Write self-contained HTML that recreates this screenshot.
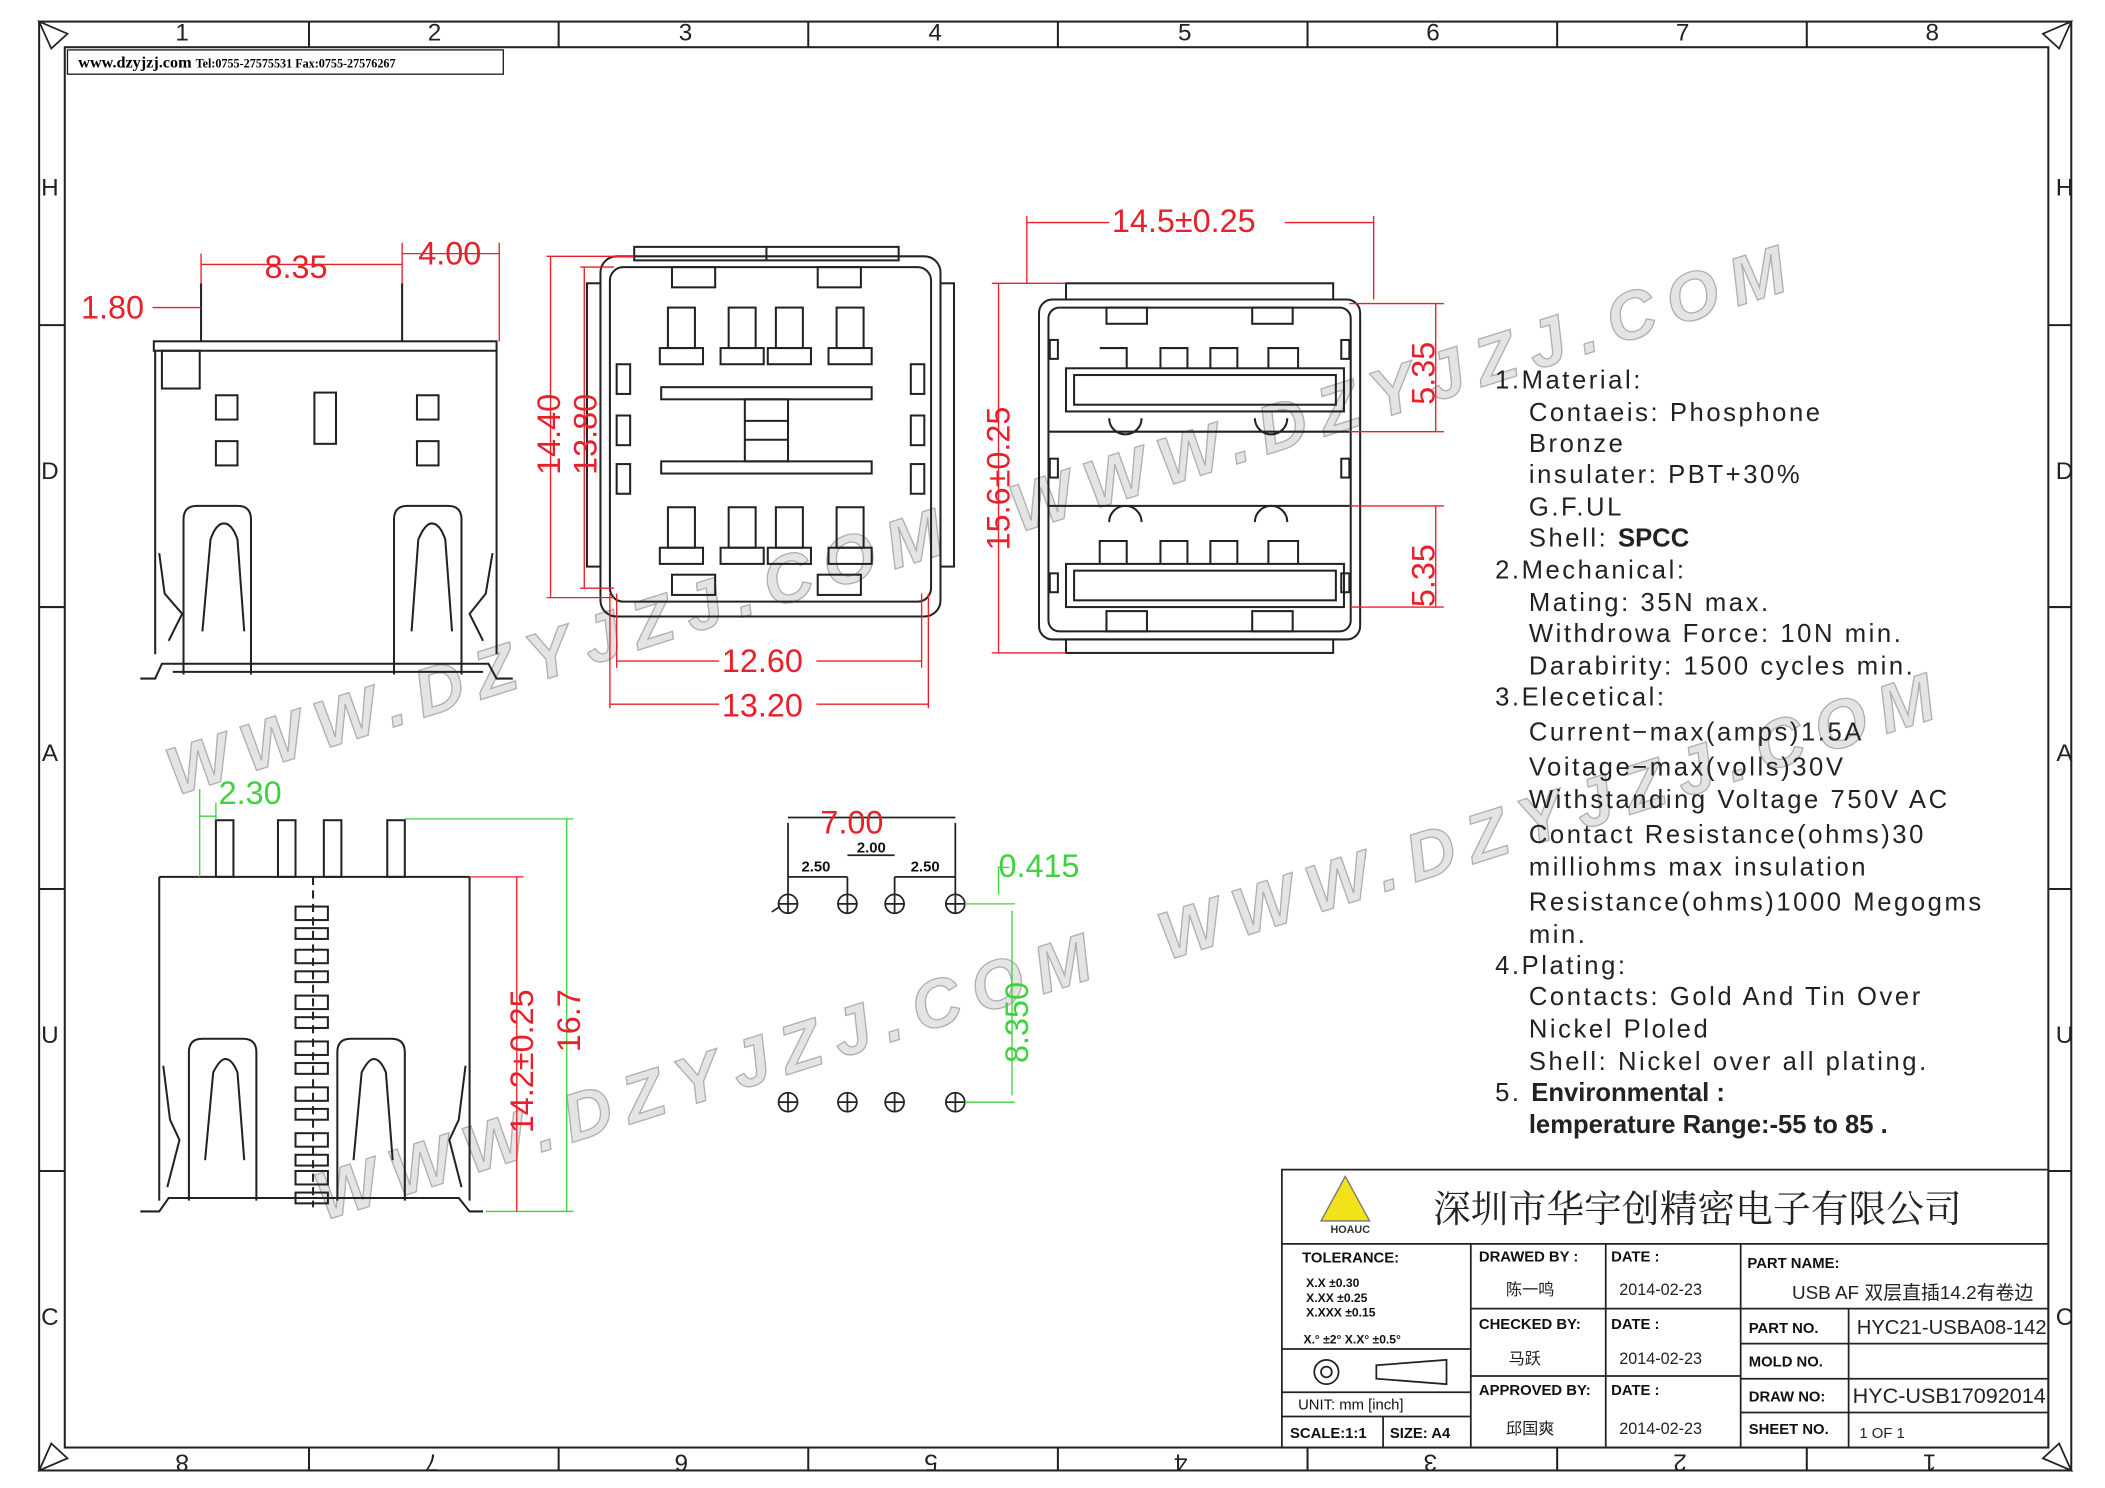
<!DOCTYPE html>
<html><head><meta charset="utf-8"><style>
html,body{margin:0;padding:0;background:#fff;}
svg{display:block;}
text{font-family:"Liberation Sans","Noto Sans CJK SC",sans-serif;}
.r{fill:#e8202a;font-size:24px;}
.g{fill:#3fd23f;font-size:24px;}
.k{fill:#222;font-size:19px;letter-spacing:1.9px;}
.s{fill:#111;font-size:11px;font-weight:bold;}
.wm{fill:#e2e2e2;stroke:#a8a8a8;stroke-width:1;font-size:50px;font-weight:bold;font-style:italic;opacity:0.9;}
</style></head><body>
<svg width="2105" height="1488" viewBox="0 0 1560 1103" preserveAspectRatio="none" xmlns="http://www.w3.org/2000/svg">
<g fill="none" stroke="#222" stroke-width="1.5">
<rect x="29" y="16" width="1506" height="1074"/>
<rect x="48" y="35" width="1470" height="1038"/>
</g>
<g stroke="#222" stroke-width="1.5">
<line x1="229" y1="16" x2="229" y2="35"/><line x1="414" y1="16" x2="414" y2="35"/><line x1="599" y1="16" x2="599" y2="35"/><line x1="784" y1="16" x2="784" y2="35"/><line x1="969" y1="16" x2="969" y2="35"/><line x1="1154" y1="16" x2="1154" y2="35"/><line x1="1339" y1="16" x2="1339" y2="35"/>
<line x1="229" y1="1073" x2="229" y2="1090"/><line x1="414" y1="1073" x2="414" y2="1090"/><line x1="599" y1="1073" x2="599" y2="1090"/><line x1="784" y1="1073" x2="784" y2="1090"/><line x1="969" y1="1073" x2="969" y2="1090"/><line x1="1154" y1="1073" x2="1154" y2="1090"/><line x1="1339" y1="1073" x2="1339" y2="1090"/>
<line x1="29" y1="241" x2="48" y2="241"/><line x1="29" y1="450" x2="48" y2="450"/><line x1="29" y1="659" x2="48" y2="659"/><line x1="29" y1="868" x2="48" y2="868"/>
<line x1="1518" y1="241" x2="1535" y2="241"/><line x1="1518" y1="450" x2="1535" y2="450"/><line x1="1518" y1="659" x2="1535" y2="659"/><line x1="1518" y1="868" x2="1535" y2="868"/>
</g>
<g fill="none" stroke="#222" stroke-width="1.3">
<path d="M29 16 L50 25 L38 36 Z"/><path d="M1535 16 L1514 25 L1526 36 Z"/><path d="M29 1090 L50 1081 L38 1070 Z"/><path d="M1535 1090 L1514 1081 L1526 1070 Z"/>
</g>
<g font-size="18" fill="#222" text-anchor="middle">
<text x="135" y="30">1</text><text x="322" y="30">2</text><text x="508" y="30">3</text><text x="693" y="30">4</text><text x="878" y="30">5</text><text x="1062" y="30">6</text><text x="1247" y="30">7</text><text x="1432" y="30">8</text>
<text transform="translate(135,1078) rotate(180)">8</text><text transform="translate(320,1078) rotate(180)">7</text><text transform="translate(505,1078) rotate(180)">6</text><text transform="translate(690,1078) rotate(180)">5</text><text transform="translate(875,1078) rotate(180)">4</text><text transform="translate(1060,1078) rotate(180)">3</text><text transform="translate(1245,1078) rotate(180)">2</text><text transform="translate(1430,1078) rotate(180)">1</text>
<text x="37" y="145">H</text><text x="37" y="355">D</text><text x="37" y="564">A</text><text x="37" y="773">U</text><text x="37" y="982">C</text>
<text x="1530" y="145">H</text><text x="1530" y="355">D</text><text x="1530" y="564">A</text><text x="1530" y="773">U</text><text x="1530" y="982">C</text>
</g>
<rect x="50" y="37" width="323" height="18" fill="none" stroke="#222"/>
<text x="58" y="50" style="font-family:'Liberation Serif',serif;font-size:12px;font-weight:bold">www.dzyjzj.com <tspan font-size="9">Tel:0755-27575531  Fax:0755-27576267</tspan></text>

<!-- watermarks -->
<g>
<text class="wm" transform="translate(130,590) rotate(-17.5)" textLength="600" lengthAdjust="spacing">WWW.DZYJZJ.COM</text>
<text class="wm" transform="translate(755,395) rotate(-17.5)" textLength="600" lengthAdjust="spacing">WWW.DZYJZJ.COM</text>
<text class="wm" transform="translate(240,905) rotate(-17.5)" textLength="600" lengthAdjust="spacing">WWW.DZYJZJ.COM</text>
<text class="wm" transform="translate(865,712) rotate(-17.5)" textLength="600" lengthAdjust="spacing">WWW.DZYJZJ.COM</text>
</g>

<!-- View 1: side view -->
<g fill="none" stroke="#222" stroke-width="1.5">
<line x1="149" y1="210" x2="149" y2="253"/><line x1="298" y1="210" x2="298" y2="253"/>
<rect x="114" y="253" width="254" height="7"/>
<path d="M115 260 V485 M368 260 V485"/>
<rect x="120" y="260" width="28" height="28"/>
<rect x="160" y="293" width="16" height="18"/><rect x="160" y="327" width="16" height="18"/>
<rect x="309" y="293" width="16" height="18"/><rect x="309" y="327" width="16" height="18"/>
<rect x="233" y="291" width="16" height="38"/>
<path d="M136 500 V385 Q136 375 146 375 H176 Q186 375 186 385 V500"/>
<path d="M150 468 L156 400 Q160 388 166 388 Q172 388 176 400 L181 468"/>
<path d="M292 500 V385 Q292 375 302 375 H332 Q342 375 342 385 V500"/>
<path d="M305 468 L310 400 Q315 388 320 388 Q326 388 330 400 L335 468"/>
<path d="M118 410 L122 440 L135 455 L125 475"/><path d="M365 410 L360 440 L348 455 L358 475"/>
<path d="M104 503 H115 L120 492 H362 L368 503 H380"/>
<line x1="128" y1="498" x2="358" y2="498"/>
</g>
<g stroke="#e8202a" stroke-width="1" fill="none">
<line x1="149" y1="188" x2="149" y2="210"/><line x1="298" y1="180" x2="298" y2="210"/><line x1="370" y1="180" x2="370" y2="253"/>
<line x1="149" y1="196" x2="298" y2="196"/><line x1="298" y1="188" x2="370" y2="188"/>
<line x1="113" y1="228" x2="149" y2="228"/>
</g>
<text class="r" x="196" y="206">8.35</text><text class="r" x="310" y="196">4.00</text><text class="r" x="60" y="236">1.80</text>

<!-- View 2: front view -->
<g fill="none" stroke="#222" stroke-width="1.5">
<rect x="445" y="190" width="252" height="267" rx="12"/>
<rect x="452" y="198" width="238" height="248" rx="10"/>
<rect x="470" y="183" width="196" height="10"/>
<line x1="568" y1="183" x2="568" y2="193"/>
<rect x="498" y="198" width="32" height="15"/><rect x="606" y="198" width="32" height="15"/>
<rect x="498" y="426" width="32" height="15"/><rect x="606" y="426" width="32" height="15"/>
<rect x="435" y="210" width="10" height="210"/><rect x="697" y="210" width="10" height="210"/>
<rect x="457" y="270" width="10" height="22"/><rect x="457" y="308" width="10" height="22"/><rect x="457" y="344" width="10" height="22"/>
<rect x="675" y="270" width="10" height="22"/><rect x="675" y="308" width="10" height="22"/><rect x="675" y="344" width="10" height="22"/>
<rect x="490" y="287" width="156" height="9"/><rect x="490" y="342" width="156" height="9"/>
<rect x="552" y="296" width="32" height="46"/><line x1="552" y1="312" x2="584" y2="312"/><line x1="552" y1="326" x2="584" y2="326"/>
<g id="pins">
<rect x="495" y="228" width="20" height="30"/><rect x="489" y="258" width="32" height="12"/>
<rect x="540" y="228" width="20" height="30"/><rect x="534" y="258" width="32" height="12"/>
<rect x="575" y="228" width="20" height="30"/><rect x="569" y="258" width="32" height="12"/>
<rect x="620" y="228" width="20" height="30"/><rect x="614" y="258" width="32" height="12"/>
</g>
<use href="#pins" y="148"/>
</g>
<g stroke="#e8202a" stroke-width="1" fill="none">
<line x1="405" y1="190" x2="470" y2="190"/><line x1="405" y1="443" x2="455" y2="443"/><line x1="408" y1="190" x2="408" y2="443"/>
<line x1="430" y1="198" x2="455" y2="198"/><line x1="430" y1="436" x2="455" y2="436"/><line x1="433" y1="198" x2="433" y2="436"/>
<line x1="457" y1="440" x2="457" y2="495"/><line x1="683" y1="440" x2="683" y2="495"/><line x1="457" y1="490" x2="683" y2="490"/>
<line x1="452" y1="440" x2="452" y2="525"/><line x1="688" y1="440" x2="688" y2="525"/><line x1="452" y1="522" x2="688" y2="522"/>
</g>
<text class="r" transform="translate(415,352) rotate(-90)">14.40</text>
<text class="r" transform="translate(442,352) rotate(-90)">13.80</text>
<rect x="533" y="477" width="72" height="26" fill="#fff"/><text class="r" x="535" y="498">12.60</text>
<rect x="533" y="510" width="72" height="26" fill="#fff"/><text class="r" x="535" y="531">13.20</text>

<!-- View 3: rear view -->
<g fill="none" stroke="#222" stroke-width="1.5">
<rect x="790" y="210" width="198" height="12"/>
<rect x="770" y="222" width="238" height="252" rx="10"/>
<rect x="777" y="228" width="224" height="240" rx="8"/>
<rect x="790" y="474" width="198" height="10"/>
<rect x="820" y="228" width="30" height="12"/><rect x="928" y="228" width="30" height="12"/>
<rect x="820" y="453" width="30" height="15"/><rect x="928" y="453" width="30" height="15"/>
<line x1="777" y1="320" x2="1001" y2="320"/><line x1="777" y1="375" x2="1001" y2="375"/>
<rect x="790" y="273" width="206" height="32"/><rect x="796" y="278" width="194" height="22"/>
<rect x="790" y="418" width="206" height="32"/><rect x="796" y="423" width="194" height="22"/>
<path d="M815 258 h20 v15 M860 273 v-15 h20 v15 M897 273 v-15 h20 v15 M940 273 v-15 h22 v15"/>
<path d="M815 418 v-17 h20 v17 M860 418 v-17 h20 v17 M897 418 v-17 h20 v17 M940 418 v-17 h22 v17"/>
<path d="M822 310 a12 12 0 0 0 24 0 M930 310 a12 12 0 0 0 24 0"/>
<path d="M822 387 a12 12 0 0 1 24 0 M930 387 a12 12 0 0 1 24 0"/>
<rect x="778" y="252" width="6" height="14"/><rect x="778" y="340" width="6" height="14"/><rect x="778" y="425" width="6" height="14"/>
<rect x="994" y="252" width="6" height="14"/><rect x="994" y="340" width="6" height="14"/><rect x="994" y="425" width="6" height="14"/>
</g>
<g stroke="#e8202a" stroke-width="1" fill="none">
<line x1="761" y1="160" x2="761" y2="210"/><line x1="1018" y1="160" x2="1018" y2="222"/><line x1="761" y1="165" x2="1018" y2="165"/>
<line x1="735" y1="210" x2="790" y2="210"/><line x1="735" y1="484" x2="790" y2="484"/><line x1="740" y1="210" x2="740" y2="484"/>
<line x1="1000" y1="225" x2="1070" y2="225"/><line x1="1000" y1="320" x2="1070" y2="320"/><line x1="1000" y1="375" x2="1070" y2="375"/><line x1="1000" y1="450" x2="1070" y2="450"/>
<line x1="1064" y1="225" x2="1064" y2="320"/><line x1="1064" y1="375" x2="1064" y2="450"/>
</g>
<rect x="822" y="150" width="130" height="26" fill="#fff"/><text class="r" x="824" y="172">14.5±0.25</text>
<text class="r" transform="translate(748,408) rotate(-90)">15.6±0.25</text>
<text class="r" transform="translate(1063,300) rotate(-90)">5.35</text>
<text class="r" transform="translate(1063,450) rotate(-90)">5.35</text>

<!-- View 4: bottom -->
<g fill="none" stroke="#222" stroke-width="1.5">
<rect x="160" y="608" width="13" height="42"/><rect x="206" y="608" width="13" height="42"/><rect x="240" y="608" width="13" height="42"/><rect x="287" y="608" width="13" height="42"/>
<path d="M118 650 H348 M118 650 V890 M348 650 V890"/>
<path d="M104 898 H118 L125 888 H340 L348 898 H358"/>
<path d="M140 890 V780 Q140 770 150 770 H180 Q190 770 190 780 V890"/>
<path d="M152 860 L158 795 Q163 785 167 785 Q172 785 176 795 L181 860"/>
<path d="M250 890 V780 Q250 770 260 770 H290 Q300 770 300 780 V890"/>
<path d="M262 860 L268 795 Q273 785 277 785 Q282 785 286 795 L291 860"/>
<path d="M121 790 L126 830 L133 845 L124 880"/><path d="M345 790 L340 830 L333 845 L342 880"/>
<path d="M232 650 V895" stroke-dasharray="6 4"/>
<g id="cl"><rect x="219" y="672" width="24" height="10"/><rect x="219" y="688" width="24" height="8"/></g>
<use href="#cl" y="32"/><use href="#cl" y="66"/><use href="#cl" y="100"/><use href="#cl" y="134"/><use href="#cl" y="168"/><use href="#cl" y="196"/>
</g>
<g stroke="#3fd23f" stroke-width="1" fill="none">
<line x1="148" y1="585" x2="148" y2="650"/><line x1="160" y1="595" x2="160" y2="608"/><line x1="148" y1="605" x2="160" y2="605"/>
<line x1="300" y1="607" x2="425" y2="607"/><line x1="360" y1="898" x2="425" y2="898"/><line x1="420" y1="607" x2="420" y2="898"/>
</g>
<g stroke="#e8202a" stroke-width="1" fill="none">
<line x1="348" y1="650" x2="388" y2="650"/><line x1="383" y1="650" x2="383" y2="898"/>
</g>
<text class="g" x="162" y="596">2.30</text>
<text class="r" transform="translate(395,840) rotate(-90)">14.2±0.25</text>
<text class="r" transform="translate(430,780) rotate(-90)">16.7</text>

<!-- View 5: PCB layout -->
<g fill="none" stroke="#222" stroke-width="1.3">
<g id="hrow">
<circle cx="584" cy="670" r="7"/><path d="M577 670h14M584 663v14"/>
<circle cx="628" cy="670" r="7"/><path d="M621 670h14M628 663v14"/>
<circle cx="663" cy="670" r="7"/><path d="M656 670h14M663 663v14"/>
<circle cx="708" cy="670" r="7"/><path d="M701 670h14M708 663v14"/>
</g>
<use href="#hrow" y="147"/>
<path d="M584 610 V663 M628 650 V663 M663 650 V663 M708 610 V663"/>
<path d="M584 650 H628 M663 650 H708"/><path d="M628 634 H663"/>
<path d="M584 606 H708"/>
<line x1="572" y1="676" x2="578" y2="672"/>
</g>
<text x="608" y="618" class="r" font-size="22">7.00</text>
<text x="594" y="646" class="s" font-size="13">2.50</text><text x="635" y="632" class="s" font-size="13">2.00</text><text x="675" y="646" class="s" font-size="13">2.50</text>
<g stroke="#3fd23f" stroke-width="1" fill="none">
<path d="M740 663 V643 H748"/><path d="M715 670 H752 M715 817 H752 M750 675 V812"/>
</g>
<text class="g" x="740" y="650">0.415</text>
<text class="g" transform="translate(762,788) rotate(-90)">8.350</text>

<!-- spec text -->
<g class="k">
<text x="1108" y="288">1.Material:</text>
<text x="1133" y="312">Contaeis: Phosphone</text>
<text x="1133" y="335">Bronze</text>
<text x="1133" y="358">insulater: PBT+30%</text>
<text x="1133" y="382">G.F.UL</text>
<text x="1133" y="405">Shell: <tspan font-weight="bold" letter-spacing="0">SPCC</tspan></text>
<text x="1108" y="429">2.Mechanical:</text>
<text x="1133" y="453">Mating: 35N  max.</text>
<text x="1133" y="476">Withdrowa  Force: 10N  min.</text>
<text x="1133" y="500">Darabirity: 1500  cycles  min.</text>
<text x="1108" y="523">3.Elecetical:</text>
<text x="1133" y="549">Current−max(amps)1.5A</text>
<text x="1133" y="575">Voitage−max(volls)30V</text>
<text x="1133" y="599">Withstanding  Voltage  750V  AC</text>
<text x="1133" y="625">Contact  Resistance(ohms)30</text>
<text x="1133" y="649">milliohms  max  insulation</text>
<text x="1133" y="675">Resistance(ohms)1000  Megogms</text>
<text x="1133" y="699">min.</text>
<text x="1108" y="722">4.Plating:</text>
<text x="1133" y="745">Contacts: Gold  And  Tin  Over</text>
<text x="1133" y="769">Nickel  Ploled</text>
<text x="1133" y="793">Shell:  Nickel  over  all  plating.</text>
<text x="1108" y="816">5. <tspan font-weight="bold" letter-spacing="0">Environmental :</tspan></text>
<text x="1133" y="840" font-weight="bold" letter-spacing="0">lemperature Range:-55  to 85    .</text>
</g>

<!-- title block -->
<g fill="none" stroke="#222" stroke-width="1.3">
<rect x="950" y="867" width="568" height="206"/>
<line x1="950" y1="922" x2="1518" y2="922"/>
<line x1="1090" y1="922" x2="1090" y2="1073"/><line x1="1190" y1="922" x2="1190" y2="1073"/><line x1="1290" y1="922" x2="1290" y2="1073"/><line x1="1370" y1="970" x2="1370" y2="1073"/>
<line x1="1090" y1="970" x2="1518" y2="970"/><line x1="1090" y1="1020" x2="1290" y2="1020"/>
<line x1="1290" y1="996" x2="1518" y2="996"/><line x1="1290" y1="1022" x2="1518" y2="1022"/><line x1="1290" y1="1047" x2="1518" y2="1047"/>
<line x1="950" y1="1000" x2="1090" y2="1000"/><line x1="950" y1="1032" x2="1090" y2="1032"/><line x1="950" y1="1050" x2="1090" y2="1050"/><line x1="1025" y1="1050" x2="1025" y2="1073"/>
<circle cx="983" cy="1017" r="9"/><circle cx="983" cy="1017" r="4"/>
<path d="M1020 1012 L1072 1008 L1072 1026 L1020 1022 Z"/>
</g>
<path d="M997 872 L979 905 L1015 905 Z" fill="#f2e21a" stroke="#777"/>
<text x="986" y="914" font-size="8" font-weight="bold" fill="#333">HOAUC</text>
<text x="1062" y="906" style="font-family:'Noto Serif CJK SC',serif;font-size:28px;fill:#222">深圳市华宇创精密电子有限公司</text>
<g class="s">
<text x="965" y="936">TOLERANCE:</text>
<text x="968" y="954" font-size="9">X.X     ±0.30</text>
<text x="968" y="965" font-size="9">X.XX    ±0.25</text>
<text x="968" y="976" font-size="9">X.XXX  ±0.15</text>
<text x="966" y="996" font-size="9">X.° ±2°       X.X° ±0.5°</text>
<text x="962" y="1045" font-weight="normal">UNIT:  mm  [inch]</text>
<text x="956" y="1066">SCALE:1:1</text><text x="1030" y="1066">SIZE:  A4</text>
<text x="1096" y="935">DRAWED  BY :</text><text x="1194" y="935">DATE  :</text>
<text x="1096" y="985">CHECKED  BY:</text><text x="1194" y="985">DATE  :</text>
<text x="1096" y="1034">APPROVED  BY:</text><text x="1194" y="1034">DATE  :</text>
<text x="1295" y="940">PART  NAME:</text>
<text x="1296" y="988">PART  NO.</text><text x="1296" y="1013">MOLD  NO.</text><text x="1296" y="1039">DRAW  NO:</text><text x="1296" y="1063">SHEET  NO.</text>
</g>
<g style="font-family:'Liberation Serif','Noto Serif CJK SC',serif;font-size:12px;fill:#222">
<text x="1116" y="960">陈一鸣</text><text x="1200" y="960">2014-02-23</text>
<text x="1118" y="1011">马跃</text><text x="1200" y="1011">2014-02-23</text>
<text x="1116" y="1063">邱国爽</text><text x="1200" y="1063">2014-02-23</text>
<text x="1328" y="963" font-size="14">USB AF 双层直插14.2有卷边</text>
<text x="1376" y="989" font-size="15">HYC21-USBA08-142</text>
<text x="1373" y="1040" font-size="16">HYC-USB17092014</text>
<text x="1378" y="1066" font-size="11">1 OF 1</text>
</g>
</svg>
</body></html>
